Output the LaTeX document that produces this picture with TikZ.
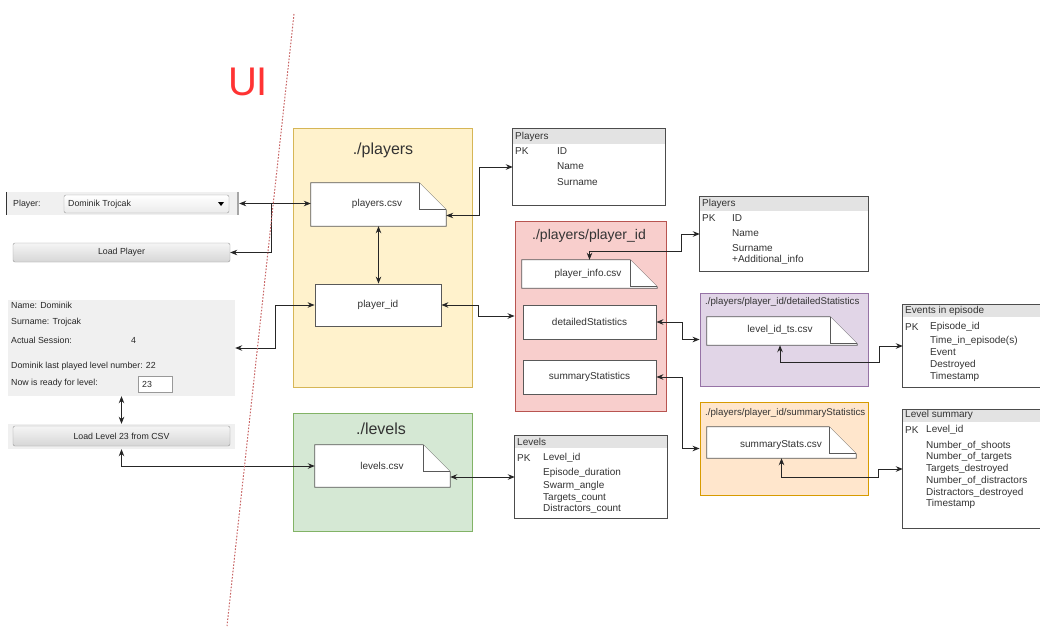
\documentclass[tikz,border=0pt]{standalone}
\usepackage{fontspec}
\setmainfont{Liberation Sans}
\usetikzlibrary{arrows.meta,calc}

\definecolor{yelF}{HTML}{FFF2CC}\definecolor{yelD}{HTML}{D6B656}
\definecolor{redF}{HTML}{F8CECC}\definecolor{redD}{HTML}{B85450}
\definecolor{grnF}{HTML}{D5E8D4}\definecolor{grnD}{HTML}{82B366}
\definecolor{purF}{HTML}{E1D5E7}\definecolor{purD}{HTML}{9673A6}
\definecolor{orgF}{HTML}{FFE6CC}\definecolor{orgD}{HTML}{D79B00}
\definecolor{uiRed}{HTML}{FF3333}
\definecolor{sepLine}{HTML}{C86464}
\definecolor{panelG}{HTML}{F0F0F0}
\definecolor{hdrG}{HTML}{E3E3E3}
\definecolor{inkG}{HTML}{333333}

\newcommand\fsz[1]{\fontsize{#1}{#1}\selectfont}
% folded-corner file shape drawn over a named node
\newcommand\foldnote[1]{%
  \draw[noteline] (#1.north west) -- ([xshift=-27pt]#1.north east)
     -- ([yshift=-27pt]#1.north east) -- (#1.south east) -- (#1.south west) -- cycle;
  \draw[noteline] ([xshift=-27pt]#1.north east) -- ([xshift=-27pt,yshift=-27pt]#1.north east)
     -- ([yshift=-27pt]#1.north east);}
% table frame with grey header band
\newcommand\tframe[2]{%
  \fill[hdrG] (#1.north west) rectangle ([yshift=-#2]#1.north east);
  \draw[tline] (#1.north west) rectangle (#1.south east);}

\begin{document}
\begin{tikzpicture}[x=1pt,y=-1pt,
  folder/.style={draw, line width=0.9pt, inner sep=0pt},
  filebox/.style={draw=black!65, fill=white, line width=0.8pt, inner sep=0pt, font=\fsz{10}, text=inkG},
  notebase/.style={inner sep=0pt, font=\fsz{10}, text=inkG},
  noteline/.style={draw=black!65, line width=0.8pt, fill=white},
  tbox/.style={inner sep=0pt},
  tline/.style={draw=black!70, line width=0.8pt},
  txt/.style={anchor=west, inner sep=0pt, font=\fsz{10}, text=inkG},
  uitxt/.style={anchor=west, inner sep=0pt, font=\fsz{8.8}, text=black!85},
  title/.style={inner sep=0pt, text=inkG},
  btn/.style={draw=black!40, rounded corners=2pt, top color=white!96!black, bottom color=black!16, inner sep=0pt, font=\fsz{8.8}, text=black!85},
  conn/.style={draw=black!85, line width=1pt, {Stealth[length=7pt,width=5.5pt]}-{Stealth[length=7pt,width=5.5pt]}},
  conn1/.style={draw=black!85, line width=1pt, -{Stealth[length=7pt,width=5.5pt]}}]

\fill[white] (0,0) rectangle (1040,626);
\useasboundingbox (0,0) rectangle (1040,626);

% ---------------- user interface side ----------------
\node[font=\fsz{40}, text=uiRed, inner sep=0pt] (uilabel) at (248,82) {UI};

% player selection row
\node[fill=panelG, minimum width=232pt, minimum height=23pt, inner sep=0pt] (prow) at (123,203.5) {};
\draw[black!80, line width=1pt] (prow.north west) -- (prow.south west);
\draw[black!35, line width=2pt] ([xshift=-1pt]prow.north east) -- ([xshift=-1pt]prow.south east);
\node[uitxt] (plab) at (13,204) {Player:};
\node[btn, minimum width=165pt, minimum height=18pt, top color=white, bottom color=black!8] (combo) at (146.5,204) {};
\node[uitxt] (ptxt) at (68,204) {Dominik Trojcak};
\fill[black] (218,202) -- (224,202) -- (221,206) -- cycle;

\node[btn, minimum width=217pt, minimum height=19pt] (lpbtn) at (121.5,252.5) {Load Player};

% player info panel
\node[fill=panelG, minimum width=227pt, minimum height=96pt, inner sep=0pt] (info) at (121.5,348) {};
\node[uitxt] (i1) at (11,305) {Name: Dominik};
\node[uitxt] (i2) at (11,322) {Surname: Trojcak};
\node[uitxt] (i3) at (11,340) {Actual Session:};
\node[uitxt] (i3v) at (131,340) {4};
\node[uitxt] (i4) at (11,366) {Dominik last played level number: 22};
\node[uitxt] (i5) at (11,383) {Now is ready for level:};
\node[draw=black!40, fill=white, minimum width=34pt, minimum height=16pt, inner sep=0pt] (field) at (155,384) {};
\node[uitxt] (fv) at (142,384) {23};

\node[fill=panelG, minimum width=227pt, minimum height=25pt, inner sep=0pt] (llpanel) at (121.5,436.5) {};
\node[btn, minimum width=217pt, minimum height=20pt] (llbtn) at (121.5,436) {Load Level 23 from CSV};

% ---------------- folders ----------------
\node[folder, draw=yelD, fill=yelF, minimum width=179pt, minimum height=259pt] (fplayers) at (382.5,257.5) {};
\node[title, font=\fsz{16}] (fplayersT) at (383,150) {./players};
\node[notebase, minimum width=135pt, minimum height=43pt] (pcsv) at (378.5,204.5) {};
\foldnote{pcsv}
\node[notebase] (pcsvT) at (377,204) {players.csv};
\node[filebox, minimum width=126pt, minimum height=42pt] (pid) at (378,305) {player\_id};

\node[folder, draw=redD, fill=redF, minimum width=151pt, minimum height=190pt] (fpid) at (590.5,316) {};
\node[title, font=\fsz{14}] (fpidT) at (589,236) {./players/player\_id};
\node[notebase, minimum width=135pt, minimum height=28pt] (pinfo) at (589.5,274) {};
\foldnote{pinfo}
\node[notebase] (pinfoT) at (588,274) {player\_info.csv};
\node[filebox, minimum width=133pt, minimum height=34pt] (ds) at (589.5,322) {detailedStatistics};
\node[filebox, minimum width=133pt, minimum height=34pt] (ss) at (589.5,377) {summaryStatistics};

\node[folder, draw=purD, fill=purF, minimum width=168pt, minimum height=93pt] (fds) at (784,339.5) {};
\node[title, font=\fsz{9.7}, anchor=west] (fdsT) at (705,302) {./players/player\_id/detailedStatistics};
\node[notebase, minimum width=150pt, minimum height=28pt] (lts) at (782,331) {};
\foldnote{lts}
\node[notebase] (ltsT) at (780,330) {level\_id\_ts.csv};

\node[folder, draw=orgD, fill=orgF, minimum width=168pt, minimum height=93pt] (fss) at (784,448.5) {};
\node[title, font=\fsz{9.7}, anchor=west] (fssT) at (705,413) {./players/player\_id/summaryStatistics};
\node[notebase, minimum width=149pt, minimum height=31pt] (sst) at (781.5,442.5) {};
\foldnote{sst}
\node[notebase] (sstT) at (781,445) {summaryStats.csv};

\node[folder, draw=grnD, fill=grnF, minimum width=179pt, minimum height=118pt] (flev) at (382.5,472) {};
\node[title, font=\fsz{16}] (flevT) at (381,429) {./levels};
\node[notebase, minimum width=135pt, minimum height=42pt] (lcsv) at (382.5,466) {};
\foldnote{lcsv}
\node[notebase] (lcsvT) at (382,466) {levels.csv};

% ---------------- tables ----------------
\node[tbox, minimum width=152pt, minimum height=76pt] (t1) at (589,167) {};
\tframe{t1}{15pt}
\node[txt] (t1h) at (515,136.5) {Players};
\node[txt] (t1a) at (515,151) {PK};
\node[txt] (t1b) at (557,151) {ID};
\node[txt] (t1c) at (557,166) {Name};
\node[txt] (t1d) at (557,182) {Surname};

\node[tbox, minimum width=168pt, minimum height=74pt] (t2) at (784,234) {};
\tframe{t2}{14pt}
\node[txt] (t2h) at (702,204) {Players};
\node[txt] (t2a) at (702,218) {PK};
\node[txt] (t2b) at (732,218) {ID};
\node[txt] (t2c) at (732,233) {Name};
\node[txt] (t2d) at (732,248) {Surname};
\node[txt] (t2e) at (732,260) {+Additional\_info};

\node[tbox, minimum width=152pt, minimum height=82pt] (lvt) at (591,477) {};
\tframe{lvt}{12pt}
\node[txt] (lvh) at (517,442) {Levels};
\node[txt] (lva) at (517,458) {PK};
\node[txt] (lvb) at (543,458) {Level\_id};
\node[txt] (lvc) at (543,473) {Episode\_duration};
\node[txt] (lvd) at (543,486) {Swarm\_angle};
\node[txt] (lve) at (543,498) {Targets\_count};
\node[txt] (lvf) at (543,509) {Distractors\_count};

\node[tbox, minimum width=145pt, minimum height=82pt] (ev) at (975.5,346) {};
\tframe{ev}{12pt}
\node[txt] (evh) at (905,311) {Events in episode};
\node[txt] (eva) at (905,327) {PK};
\node[txt] (evb) at (930,327) {Episode\_id};
\node[txt] (evc) at (930,341) {Time\_in\_episode(s)};
\node[txt] (evd) at (930,352) {Event};
\node[txt] (eve) at (930,365) {Destroyed};
\node[txt] (evf) at (930,377) {Timestamp};

\node[tbox, minimum width=145pt, minimum height=118pt] (lsum) at (975.5,469) {};
\tframe{lsum}{12pt}
\node[txt] (lsh) at (905,415) {Level summary};
\node[txt] (lsa) at (905,430) {PK};
\node[txt] (lsb) at (926,430) {Level\_id};
\node[txt] (lsc) at (926,446) {Number\_of\_shoots};
\node[txt] (lsd) at (926,457) {Number\_of\_targets};
\node[txt] (lse) at (926,469) {Targets\_destroyed};
\node[txt] (lsf) at (926,481) {Number\_of\_distractors};
\node[txt] (lsg) at (926,493) {Distractors\_destroyed};
\node[txt] (lsh2) at (926,504) {Timestamp};

% ---------------- connectors ----------------
\draw[conn] (prow.east) -- (prow.east -| pcsv.west);
\coordinate (jp) at (271,204);
\draw[conn1] (jp) |- (lpbtn.east);
\draw[conn] (info.east) -- ++(40,0) |- (pid.west);
\draw[conn] (pcsv.south) -- (pid.north -| pcsv.south);
\draw[conn] ([yshift=-11pt]pcsv.east) -- ++(33,0) |- (t1.west);
\draw[conn] (pid.east) -- ++(37,0) |- (fpid.west);
\draw[conn] (t2.west) -- ++(-18,0) |- ([yshift=8pt]pinfo.north) -- (pinfo.north);
\draw[conn] (ds.east) -- ++(26,0) |- (fds.west);
\draw[conn] (ss.east) -- ++(26,0) |- (fss.west);
\draw[conn] (ev.west) -- ++(-23,0) |- ([xshift=-2pt,yshift=-17pt]lts.south) -- ([xshift=-2pt]lts.south);
\draw[conn] (lsum.west) -- ++(-24,0) |- ([yshift=-19pt]sst.south) -- (sst.south);
\draw[conn] (lvt.west -| lcsv.east) -- (lvt.west);
\draw[conn] (lcsv.west) -| (llpanel.south);
\draw[conn] (info.south) -- (llpanel.north);

% separator between interface and storage
\draw[sepLine, line width=1pt, dash pattern=on 1.6pt off 1.6pt] (294,14) -- (227,626);

\end{tikzpicture}
\end{document}
